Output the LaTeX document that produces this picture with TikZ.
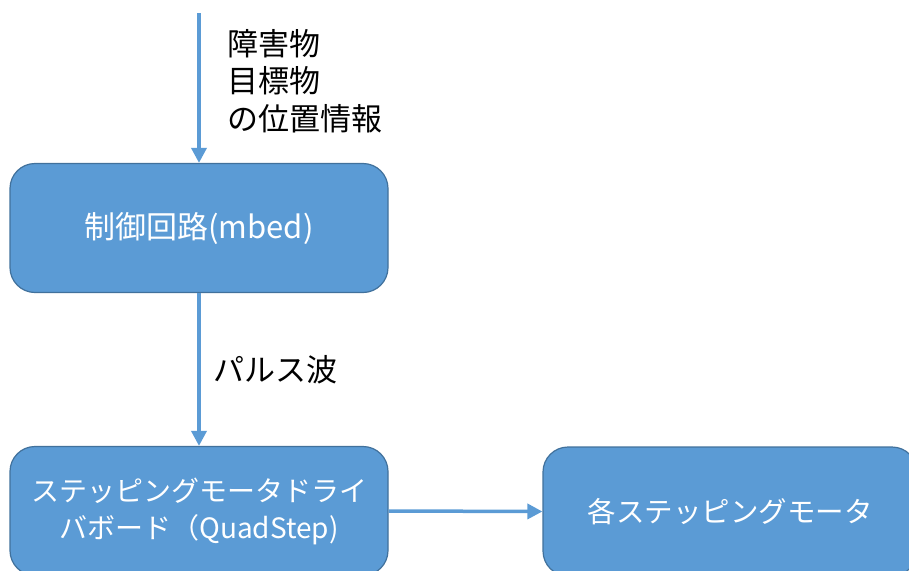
\documentclass[tikz,border=0pt]{standalone}
\usepackage{fontspec}
\setmainfont{Noto Sans CJK JP}
\usetikzlibrary{arrows.meta}
\definecolor{boxfill}{HTML}{5B9BD5}
\definecolor{boxline}{HTML}{41719C}
\begin{document}
\begin{tikzpicture}[x=1pt,y=-1pt,
  blockbox/.style={draw=boxline, line width=1.2pt, fill=boxfill, rounded corners=25pt,
    minimum width=378pt, minimum height=129pt, text=white, align=center,
    font=\fontsize{28}{37}\selectfont, inner sep=0pt},
  flow/.style={draw=boxfill, line width=3.5pt, -{Triangle[length=15pt,width=15pt]}},
  lbl/.style={text=black, align=left, font=\fontsize{31}{37.5}\selectfont, inner sep=0pt}]
\useasboundingbox (0,0) rectangle (909,570);
\begin{scope}
\clip (0,0) rectangle (909,570);
\coordinate (src) at (199,13);
\node[blockbox, font=\fontsize{31}{37}\selectfont] (ctrl) at (199,228) {制御回路(mbed)};
\node[blockbox] (drv) at (199,511) {ステッピングモータドライ\\バボード（QuadStep)};
\node[blockbox, minimum width=374pt, font=\fontsize{28.5}{37}\selectfont] (mot) at (730,511.5) {各ステッピングモータ};
\draw[flow] (src) -- (ctrl.north);
\draw[flow] (ctrl.south) -- (drv.north);
\draw[flow] (drv.east) -- (mot.west);
\node[lbl, anchor=west] (info) at (227,81) {障害物\\目標物\\の位置情報};
\node[lbl, anchor=west] (pulse) at (213,370) {パルス波};
\end{scope}
\end{tikzpicture}
\end{document}
